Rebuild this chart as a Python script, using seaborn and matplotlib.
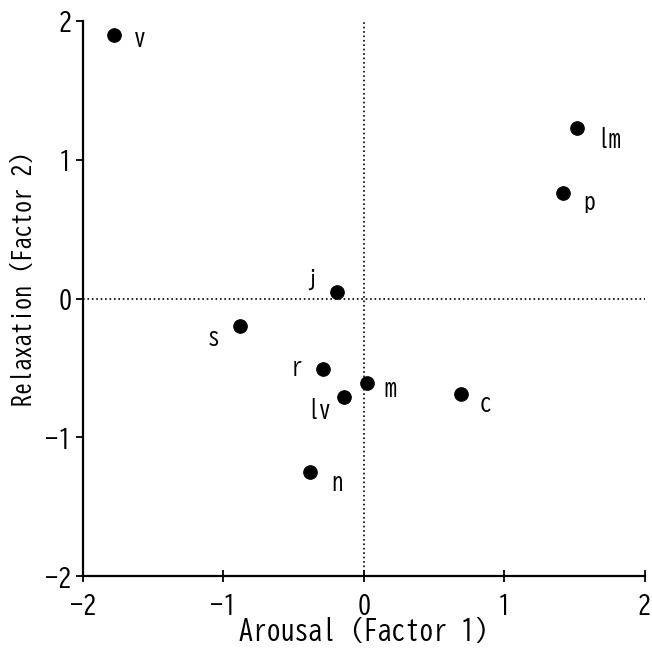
import pandas as pd
import matplotlib
matplotlib.use('Agg')
import matplotlib.pyplot as plt
import seaborn as sns

# Factor scores
labels = ['v', 'lm', 'p', 'j', 's', 'r', 'm', 'lv', 'c', 'n']
arousal = [-1.78, 1.52, 1.42, -0.19, -0.88, -0.29, 0.02, -0.14, 0.69, -0.38]
relaxation = [1.90, 1.23, 0.76, 0.05, -0.20, -0.51, -0.61, -0.71, -0.69, -1.25]
# label offsets in points (dx, dy)
offsets = {
    'v': (19, -2), 'lm': (23, -8), 'p': (18.5, -6), 'j': (-18, 9),
    's': (-19, -7), 'r': (-19, 2), 'm': (17, -3), 'lv': (-18, -9),
    'c': (17.5, -6), 'n': (19.5, -7),
}

df = pd.DataFrame({'label': labels, 'arousal': arousal, 'relaxation': relaxation})

sns.set_style('ticks')
plt.rcParams['font.family'] = ['Kosugi', 'BIZ UDGothic', 'M PLUS 1 Code',
                               'Roboto Condensed', 'DejaVu Sans Mono']
plt.rcParams['axes.unicode_minus'] = False
plt.rcParams['text.color'] = 'black'
plt.rcParams['axes.labelcolor'] = 'black'
plt.rcParams['xtick.color'] = 'black'
plt.rcParams['ytick.color'] = 'black'

fig = plt.figure(figsize=(6.52, 6.54), dpi=100)
ax = fig.add_axes([0.127, 0.119, 0.862, 0.849])

ax.axhline(0, color='black', linestyle=':', linewidth=1.2, zorder=1)
ax.axvline(0, color='black', linestyle=':', linewidth=1.2, zorder=1)
sns.scatterplot(data=df, x='arousal', y='relaxation', color='black',
                s=95, edgecolor='black', ax=ax, zorder=3)

for _, row in df.iterrows():
    dx, dy = offsets[row['label']]
    ax.annotate(row['label'], (row['arousal'], row['relaxation']),
                xytext=(dx, dy), textcoords='offset points',
                ha='center', va='center', fontsize=17)

ax.set_xlim(-2, 2)
ax.set_ylim(-2, 2)
ax.set_xticks([-2, -1, 0, 1, 2])
ax.set_yticks([-2, -1, 0, 1, 2])
sns.despine(ax=ax)
for side in ['left', 'bottom']:
    ax.spines[side].set_linewidth(1.6)
    ax.spines[side].set_color('black')
ax.tick_params(axis='x', direction='inout', length=8, width=1.3, labelsize=19, pad=8)
ax.tick_params(axis='y', direction='out', length=5, width=1.3, labelsize=19, pad=3)
ax.set_xlabel('Arousal (Factor 1)', fontsize=20, labelpad=0)
ax.set_ylabel('Relaxation (Factor 2)', fontsize=17.5)
ax.yaxis.set_label_coords(-0.086, 0.535)

fig.savefig('out.png', dpi=100)
